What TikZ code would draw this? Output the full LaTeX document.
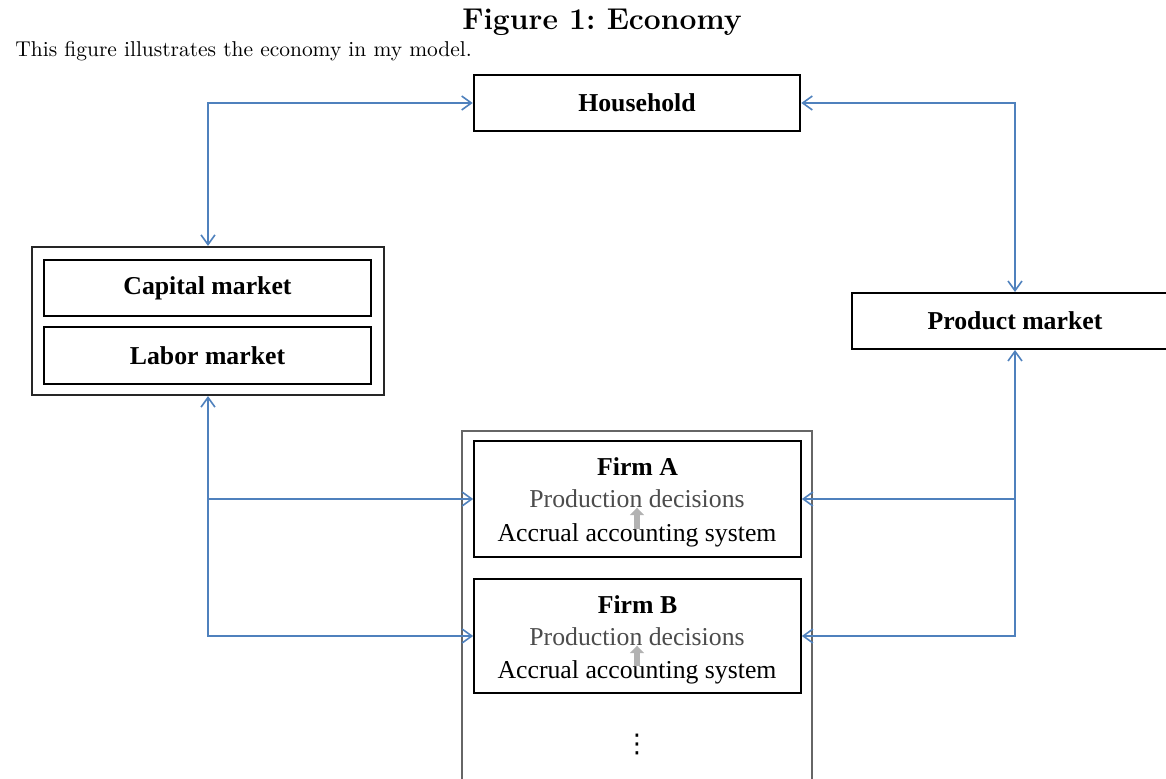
\documentclass[tikz,border=0pt]{standalone}
\usepackage{fontspec}
\newfontfamily\tnr{Liberation Serif}
\newfontfamily\dejasans{DejaVu Sans}
\usetikzlibrary{arrows.meta,backgrounds}
\definecolor{linkblue}{RGB}{79,129,189}
\def\P{0.466pt}
\begin{document}
\begin{tikzpicture}[x=0.466pt,y=-0.466pt,
  box/.style={draw=black,line width=0.9pt,minimum width=326*\P,minimum height=56*\P,inner sep=0pt,
    font=\tnr\fontsize{12}{14}\selectfont\bfseries},
  groupbox/.style={draw=black!85,line width=1.0pt,inner sep=0pt},
  firmbox/.style={draw=black,line width=0.8pt,minimum width=327*\P,minimum height=116*\P,inner sep=0pt},
  ftitle/.style={anchor=base,inner sep=0pt,font=\tnr\fontsize{12}{14}\selectfont\bfseries},
  fprod/.style={anchor=base,inner sep=0pt,text=black!70,font=\tnr\fontsize{12}{14}\selectfont},
  facc/.style={anchor=base,inner sep=0pt,font=\tnr\fontsize{12}{14}\selectfont},
  conn/.style={draw=linkblue,line width=0.75pt,{Straight Barb[length=4.5pt,width=6.5pt]}-{Straight Barb[length=4.5pt,width=6.5pt]}},
  conn1/.style={draw=linkblue,line width=0.75pt,-{Straight Barb[length=4.5pt,width=6.5pt]}},
  uparrow/.style={draw=black!30,line width=2.6pt,-{Triangle[length=3.5pt,width=6.5pt]},shorten <=-3pt}
]
\useasboundingbox (0,0) rectangle (1166,779);
\clip (0,0) rectangle (1166,779);

\node[font=\fontsize{14}{17}\selectfont\bfseries,anchor=base,inner sep=0pt] (title) at (602,29) {Figure 1:\ Economy};
\node[font=\fontsize{10}{12}\selectfont,anchor=base west,inner sep=0pt] (intro) at (15,56) {This figure illustrates the economy in my model.};

\node[box,line width=1.2pt] (hh) at (637,103) {Household};

\node[groupbox,minimum width=352*\P,minimum height=148*\P] (lm) at (208,321) {};
\node[box,minimum width=327*\P] (cap) at (207.5,288) {Capital market};
\node[box,minimum width=327*\P,minimum height=57*\P] (lab) at (207.5,355.5) {Labor market};

\node[box] (pm) at (1015,321) {Product market};

\node[draw=black!60,line width=1.1pt,minimum width=350*\P,minimum height=420*\P,anchor=north,inner sep=0pt] (firms) at (637,430) {};

\node[firmbox] (fa) at (637.5,499) {};
\node[ftitle] (faT) at (637.5,475) {Firm A};
\node[fprod] (faP) at (637,507) {Production decisions};
\node[facc] (faA) at (637,541) {Accrual accounting system};

\node[firmbox,minimum height=114*\P] (fb) at (637.5,636) {};
\node[ftitle] (fbT) at (637.5,613) {Firm B};
\node[fprod] (fbP) at (637,645) {Production decisions};
\node[facc] (fbA) at (637,678) {Accrual accounting system};

\node[inner sep=0pt,font=\dejasans\fontsize{12}{14}\selectfont] (dots) at (637,744) {⋮};

\begin{scope}[on background layer]
\draw[uparrow] (faA.north) -- (faP.south);
\draw[uparrow] (fbA.north) -- (fbP.south);
\end{scope}

\draw[conn] (hh.west) -| (lm.north);
\draw[conn] (hh.east) -| (pm.north);
\draw[conn] (lm.south) |- (fb.west);
\draw[conn1] (lm.south |- fa.west) -- (fa.west);
\draw[conn] (pm.south) |- (fb.east);
\draw[conn1] (pm.south |- fa.east) -- (fa.east);
\end{tikzpicture}
\end{document}
